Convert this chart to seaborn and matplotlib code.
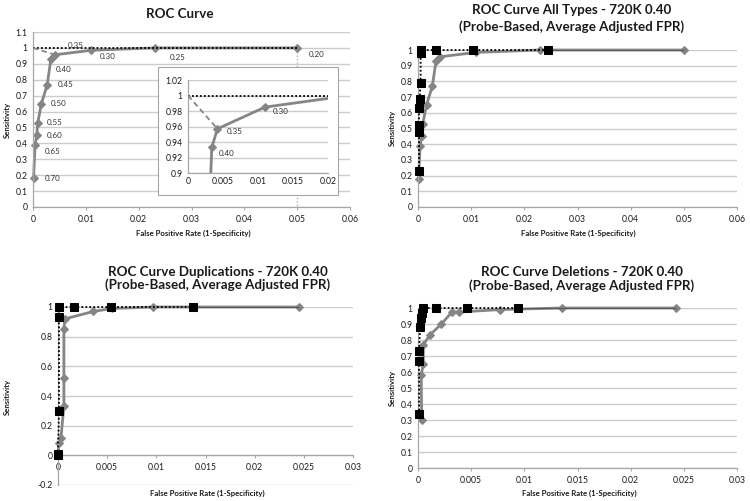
import numpy as np
import pandas as pd
import seaborn as sns
import matplotlib.pyplot as plt
from matplotlib.patches import Rectangle

sns.set_theme(style="white")
plt.rcParams['font.family'] = ['Lato', 'DejaVu Sans']

# ROC all types, probe-based threshold sweep
thr_all = ['0.70', '0.65', '0.60', '0.55', '0.50', '0.45', '0.40', '0.35', '0.30', '0.25', '0.20']
fpr_all = [0.0001, 0.0004, 0.0007, 0.0009, 0.0016, 0.0027, 0.0034, 0.0042, 0.011, 0.023, 0.050]
sens_all = [0.18, 0.39, 0.45, 0.53, 0.65, 0.77, 0.933, 0.957, 0.985, 1.0, 1.0]

# adjusted FPR (black squares) all types
fpr_adj_all = [0.0002, 0.0002, 0.0002, 0.0002, 0.0002, 0.0003, 0.0005, 0.0005, 0.0005, 0.0034, 0.0104, 0.0245]
sens_adj_all = [0.23, 0.48, 0.50, 0.52, 0.63, 0.69, 0.79, 0.98, 1.0, 1.0, 1.0, 1.0]

# duplications
fpr_dup = [0.0, 0.0001, 0.0003, 0.0006, 0.0006, 0.0006, 0.0007, 0.0036, 0.0055, 0.0097, 0.0245]
sens_dup = [0.0, 0.08, 0.12, 0.33, 0.52, 0.85, 0.92, 0.97, 0.99, 1.0, 1.0]
fpr_adj_dup = [0.0, 0.0, 0.0001, 0.0001, 0.0001, 0.0016, 0.0054, 0.0137]
sens_adj_dup = [0.0, 0.01, 0.30, 0.93, 1.0, 1.0, 1.0, 1.0]

# deletions
fpr_del = [0.00035, 0.0003, 0.0005, 0.0005, 0.0011, 0.0022, 0.0032, 0.0039, 0.0077, 0.0135, 0.0243]
sens_del = [0.30, 0.58, 0.65, 0.77, 0.83, 0.90, 0.975, 0.975, 0.99, 1.0, 1.0]
fpr_adj_del = [0.0001, 0.0001, 0.0001, 0.0002, 0.0003, 0.0004, 0.0005, 0.0017, 0.0046, 0.0094]
sens_adj_del = [0.335, 0.67, 0.73, 0.88, 0.94, 0.97, 1.0, 1.0, 1.0, 1.0]

# threshold label offsets on the first chart (data units)
lab_dx = [0.0022, 0.0019, 0.0019, 0.0017, 0.0018, 0.0019, 0.0010, 0.0023, 0.0017, 0.0029, 0.0021]
lab_dy = [0.0, -0.044, 0.0, 0.0, 0.0, 0.0, -0.07, 0.06, -0.04, -0.063, -0.04]
# inset labels: (index, dx, dy)
inset_lab = [(6, 0.0010, -0.008), (7, 0.00137, -0.003), (8, 0.0011, -0.005)]

GRAY = '#858585'
GRID = '#cccccc'
SPINE = '#a6a6a6'
TICK = 6.2

fig = plt.figure(figsize=(7.5, 5.01), dpi=100)


def style(ax, yticks, xticks, ylim, xlim):
    ax.set_xlim(*xlim)
    ax.set_ylim(*ylim)
    ax.set_yticks(yticks)
    ax.set_xticks(xticks)
    ax.set_xticklabels([('%g' % t) for t in xticks])
    ax.set_yticklabels([('%g' % t) for t in yticks])
    ax.yaxis.grid(True, color=GRID, lw=1.0)
    ax.xaxis.grid(False)
    for s in ['top', 'right']:
        ax.spines[s].set_visible(False)
    for s in ['left', 'bottom']:
        ax.spines[s].set_color(SPINE)
        ax.spines[s].set_linewidth(0.9)
    ax.tick_params(axis='both', labelsize=TICK, labelcolor='#1a1a1a')
    ax.tick_params(axis='y', length=0, pad=4)
    ax.tick_params(axis='x', length=2.5, width=0.8, color=SPINE, direction='out', pad=3,
                   bottom=True)
    ax.set_facecolor('white')
    ax.set_xlabel('')
    ax.set_ylabel('')


def gray_curve(ax, x, y, ms=4.5):
    sns.lineplot(x=x, y=y, ax=ax, sort=False, estimator=None, color=GRAY, lw=2,
                 marker='D', markersize=ms, markeredgecolor=GRAY, clip_on=False)


def black_curve(ax, x, y):
    sns.lineplot(x=x, y=y, ax=ax, sort=False, estimator=None, color='black', lw=1.3,
                 linestyle=(0, (1, 1.2)), marker='s', markersize=5.5, markeredgecolor='black',
                 clip_on=False, zorder=5)


def px(x0, x1, ytop, ybot):
    return [x0 / 750, (501 - ybot) / 501, (x1 - x0) / 750, (ybot - ytop) / 501]


def labels(xc, ytitle, ylines, xl_x, xl_y, sy_x, sy_y):
    for y, t in zip(ylines, ytitle):
        fig.text(xc / 750, 1 - y / 501, t, ha='center', va='center', fontsize=9.6,
                 fontweight='bold', color='#1a1a1a')
    fig.text(xl_x / 750, 1 - xl_y / 501, 'False Positive Rate (1-Specificity)', ha='center',
             va='center', fontsize=5.6, fontweight='bold', color='#1a1a1a')
    fig.text(sy_x / 750, 1 - sy_y / 501, 'Sensitivity', ha='center', va='center',
             rotation=90, fontsize=5.6, fontweight='bold', color='#1a1a1a')


# ---- panel 1: ROC Curve
ax1 = fig.add_axes(px(33, 350, 32, 207))
ax1.plot([0, 0.05], [1, 1], color='black', lw=1.3, ls=(0, (1, 1.2)), zorder=3)
ax1.plot([0.05, 0.05], [1, 0], color='#b0b0b0', lw=1.0, ls=(0, (1, 1.5)), zorder=2)
ax1.plot([0, fpr_all[7]], [1, sens_all[7]], color=GRAY, lw=1.3, ls=(0, (3, 2)), zorder=3)
gray_curve(ax1, fpr_all, sens_all)
for i, t in enumerate(thr_all):
    ax1.text(fpr_all[i] + lab_dx[i], sens_all[i] + lab_dy[i], t, fontsize=5.8, color='#333333',
             ha='left', va='center')
style(ax1, np.round(np.arange(0, 1.11, 0.1), 1), [0, 0.01, 0.02, 0.03, 0.04, 0.05, 0.06],
      (0, 1.1), (0, 0.06))
labels(180, ['ROC Curve'], [14], 193, 233, 7, 120)

# inset frame
fig.patches.append(Rectangle((158 / 750, (501 - 195) / 501), 180 / 750, 128 / 501,
                             transform=fig.transFigure, facecolor='white', edgecolor=SPINE,
                             lw=0.8, zorder=4))
axi = fig.add_axes(px(188, 328, 80, 173))
axi.set_zorder(5)
axi.plot([0, 0.02], [1, 1], color='black', lw=1.3, ls=(0, (1, 1.2)), zorder=3)
axi.plot([0, fpr_all[7]], [1, sens_all[7]], color=GRAY, lw=1.3, ls=(0, (3, 2)), zorder=3)
sns.lineplot(x=fpr_all, y=sens_all, ax=axi, sort=False, estimator=None, color=GRAY, lw=2,
             marker='D', markersize=4.5, markeredgecolor=GRAY)
for i, dx, dy in inset_lab:
    axi.text(fpr_all[i] + dx, sens_all[i] + dy, thr_all[i], fontsize=5.8, color='#333333',
             ha='left', va='center')
style(axi, [0.9, 0.92, 0.94, 0.96, 0.98, 1.0, 1.02], [0, 0.005, 0.01, 0.015, 0.02],
      (0.9, 1.02), (0, 0.02))
axi.tick_params(axis='x', length=0)

# ---- panel 2: all types
ax2 = fig.add_axes(px(418, 737, 50, 207))
gray_curve(ax2, fpr_all, sens_all, ms=4)
ax2.plot([0.0245, 0.05], [1, 1], color='#555555', lw=1.3, zorder=4)
black_curve(ax2, fpr_adj_all, sens_adj_all)
style(ax2, np.round(np.arange(0, 1.01, 0.1), 1), [0, 0.01, 0.02, 0.03, 0.04, 0.05, 0.06],
      (0, 1), (0, 0.06))
labels(572, ['ROC Curve All Types - 720K 0.40', '(Probe-Based, Average Adjusted FPR)'],
       [10, 27], 578, 233, 392, 128)

# ---- panel 3: duplications
ax3 = fig.add_axes(px(58, 353, 307, 485))
ax3.spines['bottom'].set_position(('data', 0))
gray_curve(ax3, fpr_dup, sens_dup, ms=4)
ax3.plot([0.0137, 0.0245], [1, 1], color='#555555', lw=1.3, zorder=4)
black_curve(ax3, fpr_adj_dup, sens_adj_dup)
style(ax3, [-0.2, 0, 0.2, 0.4, 0.6, 0.8, 1.0], [0, 0.005, 0.01, 0.015, 0.02, 0.025, 0.03],
      (-0.2, 1), (0, 0.03))
labels(218, ['ROC Curve Duplications - 720K 0.40', '(Probe-Based, Average Adjusted FPR)'],
       [272, 285], 207, 493, 7, 397)

# ---- panel 4: deletions
ax4 = fig.add_axes(px(418, 737, 308, 468))
gray_curve(ax4, fpr_del, sens_del, ms=4)
ax4.plot([0.0094, 0.0243], [1, 1], color='#555555', lw=1.3, zorder=4)
black_curve(ax4, fpr_adj_del, sens_adj_del)
style(ax4, np.round(np.arange(0, 1.01, 0.1), 1), [0, 0.005, 0.01, 0.015, 0.02, 0.025, 0.03],
      (0, 1), (0, 0.03))
labels(582, ['ROC Curve Deletions - 720K 0.40', '(Probe-Based, Average Adjusted FPR)'],
       [272, 286], 579, 493, 392, 388)

fig.savefig('out.png', dpi=100)
